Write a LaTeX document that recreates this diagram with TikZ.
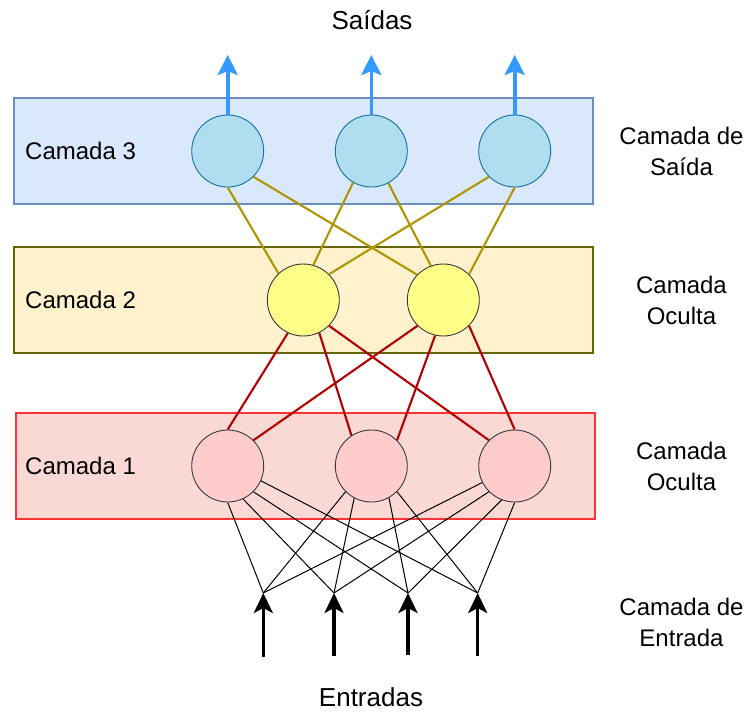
\documentclass[tikz,border=0pt]{standalone}
\usepackage{fontspec}
\setmainfont{Liberation Sans}
\usetikzlibrary{arrows.meta}
\definecolor{bluefill}{HTML}{DAE8FC}
\definecolor{bluestroke}{HTML}{6C8EBF}
\definecolor{yelfill}{HTML}{FFF2CC}
\definecolor{yelstroke}{HTML}{666600}
\definecolor{redfill}{HTML}{FAD9D5}
\definecolor{redstroke}{HTML}{FF3333}
\definecolor{tfill}{HTML}{B1DDF0}
\definecolor{tstroke}{HTML}{10739E}
\definecolor{hfill}{HTML}{FFFF88}
\definecolor{nstroke}{HTML}{36393D}
\definecolor{lfill}{HTML}{FFCCCC}
\definecolor{yeledge}{HTML}{B09500}
\definecolor{rededge}{HTML}{B20000}
\definecolor{outarrow}{HTML}{3399FF}
\tikzset{
  layerbox/.style={draw, line width=2pt, minimum width=579pt, minimum height=106pt, inner sep=0pt},
  neuron/.style={circle, draw, line width=0.9pt, minimum size=72pt, inner sep=0pt},
  lbl/.style={font=\fontsize{24}{31}\selectfont, align=center, inner sep=0pt},
  ttl/.style={font=\fontsize{26}{31}\selectfont, inner sep=0pt},
  yedge/.style={draw=yeledge, line width=2.1pt},
  redge/.style={draw=rededge, line width=2.1pt},
  bedge/.style={draw=black, line width=1pt},
  outar/.style={draw=outarrow, line width=3.6pt, -{Stealth[length=20pt,width=20pt,inset=4pt]}},
  inar/.style={draw=black, line width=3.2pt, -{Stealth[length=20pt,width=19pt,inset=5pt]}}
}
\begin{document}
\begin{tikzpicture}[x=1pt,y=-1pt]
\useasboundingbox (0,0) rectangle (745,713);
% layer boxes
\node[layerbox, fill=bluefill, draw=bluestroke] (box3) at (303.5,151) {};
\node[layerbox, fill=yelfill, draw=yelstroke] (box2) at (303.5,300) {};
\node[layerbox, fill=redfill, draw=redstroke] (box1) at (305.5,466) {};
% box labels
\node[lbl, anchor=west] (c3) at (25,151) {Camada 3};
\node[lbl, anchor=west] (c2) at (25,300) {Camada 2};
\node[lbl, anchor=west] (c1) at (25,466) {Camada 1};
% right labels
\node[lbl] (r3) at (681.5,151) {Camada de\\Saída};
\node[lbl] (r2) at (681.5,300) {Camada\\Oculta};
\node[lbl] (r1) at (681.5,466) {Camada\\Oculta};
\node[lbl] (r0) at (681.5,622) {Camada de\\Entrada};
\node[ttl] (saidas) at (372,20) {Saídas};
\node[ttl] (entradas) at (371,697) {Entradas};
% neurons
\node[neuron, fill=tfill, draw=tstroke] (t1) at (227.7,151) {};
\node[neuron, fill=tfill, draw=tstroke] (t2) at (371.3,151) {};
\node[neuron, fill=tfill, draw=tstroke] (t3) at (514.7,151) {};
\node[neuron, fill=hfill, draw=nstroke] (h1) at (303.3,300) {};
\node[neuron, fill=hfill, draw=nstroke] (h2) at (443.3,300) {};
\node[neuron, fill=lfill, draw=nstroke] (l1) at (227.7,466) {};
\node[neuron, fill=lfill, draw=nstroke] (l2) at (371.3,466) {};
\node[neuron, fill=lfill, draw=nstroke] (l3) at (514.7,466) {};
% input and output coordinates
\coordinate (i1) at (263.3,593);
\coordinate (i2) at (334,593);
\coordinate (i3) at (408,593);
\coordinate (i4) at (477.7,593);
\coordinate (b1) at (263.3,657);
\coordinate (b2) at (334,656);
\coordinate (b3) at (408,655);
\coordinate (b4) at (477.7,656);
\coordinate (o1) at (227.7,55);
\coordinate (o2) at (371.3,55);
\coordinate (o3) at (514.7,55);
% output arrows
\draw[outar] (t1.north) -- (o1);
\draw[outar] (t2.north) -- (o2);
\draw[outar] (t3.north) -- (o3);
% yellow edges
\draw[yedge] (t1.-90) -- (h1.133);
\draw[yedge] (t1.-45) -- (h2.136);
\draw[yedge] (t2.-120) -- (h1.74);
\draw[yedge] (t2.-62) -- (h2.110);
\draw[yedge] (t3.-135) -- (h1.45);
\draw[yedge] (t3.-90) -- (h2.45);
% red edges
\draw[redge] (h1.-115) -- (l1.90);
\draw[redge] (h1.-64) -- (l2.123);
\draw[redge] (h1.-45) -- (l3.135);
\draw[redge] (h2.-135) -- (l1.45);
\draw[redge] (h2.-103) -- (l2.45);
\draw[redge] (h2.-45) -- (l3.90);
% black edges
\draw[bedge] (l1.-90) -- (i1);
\draw[bedge] (l1.-65) -- (i2);
\draw[bedge] (l1.-45) -- (i3);
\draw[bedge] (l1.-24) -- (i4);
\draw[bedge] (l2.-135) -- (i1);
\draw[bedge] (l2.-118) -- (i2);
\draw[bedge] (l2.-61) -- (i3);
\draw[bedge] (l2.-45) -- (i4);
\draw[bedge] (l3.-153) -- (i1);
\draw[bedge] (l3.-135) -- (i2);
\draw[bedge] (l3.-111) -- (i3);
\draw[bedge] (l3.-90) -- (i4);
% input arrows
\draw[inar] (b1) -- (i1);
\draw[inar] (b2) -- (i2);
\draw[inar] (b3) -- (i3);
\draw[inar] (b4) -- (i4);
\end{tikzpicture}
\end{document}
